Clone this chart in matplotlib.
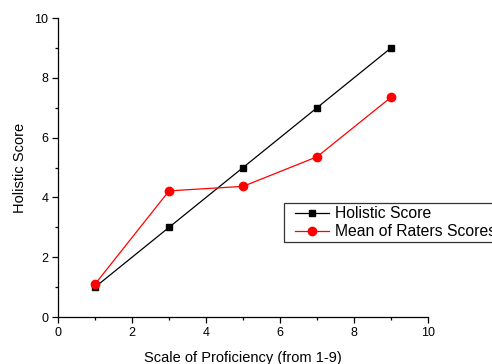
import matplotlib
matplotlib.use('Agg')
import matplotlib.pyplot as plt
from matplotlib.ticker import MultipleLocator
from matplotlib.lines import Line2D
from matplotlib.legend_handler import HandlerLine2D

plt.rcParams['font.family'] = ['Liberation Sans', 'DejaVu Sans']

proficiency = [1, 3, 5, 7, 9]
holistic = [1, 3, 5, 7, 9]
raters_mean = [1.1, 4.22, 4.37, 5.36, 7.35]

fig = plt.figure(figsize=(4.92, 3.64), dpi=100)
ax = fig.add_axes([0.118, 0.129, 0.752, 0.8215])

ax.plot(proficiency, holistic, color='black', lw=0.9, marker='s', ms=5,
        label='Holistic Score')
ax.plot(proficiency, raters_mean, color='red', lw=0.9, marker='o', ms=6,
        label='Mean of Raters Scores')

ax.set_xlim(0, 10)
ax.set_ylim(0, 10)
ax.xaxis.set_major_locator(MultipleLocator(2))
ax.xaxis.set_minor_locator(MultipleLocator(1))
ax.yaxis.set_major_locator(MultipleLocator(2))
ax.yaxis.set_minor_locator(MultipleLocator(1))
for s in ['top', 'right']:
    ax.spines[s].set_visible(False)
for s in ['left', 'bottom']:
    ax.spines[s].set_linewidth(0.9)
ax.tick_params(which='major', direction='out', length=4, width=0.9,
               labelsize=9, pad=3)
ax.tick_params(which='minor', direction='out', length=2, width=0.9)

ax.set_xlabel('Scale of Proficiency (from 1-9)', fontsize=10.5, labelpad=9)
ax.set_ylabel('Holistic Score', fontsize=10.5, labelpad=5)

leg = fig.legend(loc='upper left', bbox_to_anchor=(284 / 492, 1 - 203 / 364),
                 fontsize=11.3, frameon=True, fancybox=False, borderpad=0.2,
                 labelspacing=0.2, handlelength=2.67, handletextpad=0.37,
                 borderaxespad=0,
                 handler_map={Line2D: HandlerLine2D(xpad=0.5)})
leg.get_frame().set_edgecolor('black')
leg.get_frame().set_linewidth(0.9)

fig.savefig('out.png', dpi=100)
